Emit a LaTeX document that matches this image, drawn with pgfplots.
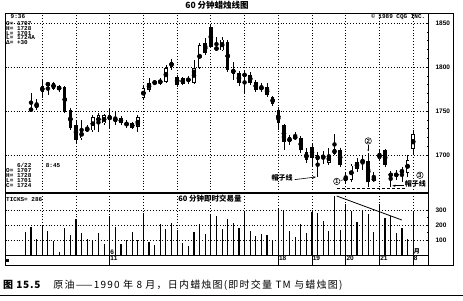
\documentclass[border=0pt]{standalone}
\usepackage{pgfplots}
\pgfplotsset{compat=1.18}
\usepackage{pgfplotstable}
\usetikzlibrary{arrows.meta}
\usepackage{fontspec}
\setmainfont{Liberation Sans}
\setmonofont{Liberation Mono}
\newfontfamily\cjk{Noto Sans CJK SC}

\pgfplotstableread{
i O H L C
0 1750 1770 1749 1753
1 1753 1764 1751 1759
2 1772 1785 1765 1778
3 1779 1783 1768 1782
4 1782 1783 1774 1775
5 1774 1780 1772 1778
6 1777 1778 1748 1749
7 1751 1753 1728 1731
8 1734 1740 1714 1717
9 1719 1740 1717 1728
10 1727 1734 1726 1731
11 1728 1745 1726 1743
12 1736 1748 1726 1745
13 1736 1747 1734 1745
14 1745 1753 1731 1740
15 1737 1749 1734 1743
16 1742 1744 1734 1736
17 1733 1740 1731 1737
18 1736 1738 1729 1731
19 1732 1745 1726 1743
20 1765 1778 1762 1776
21 1774 1787 1772 1782
22 1784 1785 1779 1781
23 1784 1787 1780 1782
24 1783 1802 1782 1799
25 1800 1809 1797 1806
26 1789 1791 1777 1780
27 1781 1789 1779 1787
28 1788 1790 1781 1783
29 1782 1808 1781 1799
30 1799 1827 1798 1825
31 1827 1833 1814 1816
32 1845 1848 1822 1823
33 1823 1834 1818 1819
34 1819 1834 1818 1831
35 1828 1831 1794 1797
36 1798 1806 1785 1792
37 1793 1795 1779 1782
38 1789 1795 1770 1793
39 1791 1794 1780 1782
40 1783 1785 1772 1774
41 1774 1782 1772 1778
42 1777 1782 1766 1768
43 1766 1767 1756 1758
44 1751 1755 1728 1736
45 1734 1735 1706 1715
46 1715 1723 1711 1720
47 1721 1726 1717 1719
48 1719 1722 1702 1706
49 1703 1708 1691 1694
50 1709 1714 1686 1697
51 1700 1703 1675 1694
52 1696 1704 1690 1700
53 1691 1708 1689 1700
54 1701 1724 1700 1707
55 1706 1708 1686 1689
56 1671 1681 1668 1675
57 1672 1690 1669 1688
58 1684 1697 1681 1692
59 1691 1700 1683 1695
60 1693 1702 1664 1669
61 1670 1681 1669 1675
62 1695 1706 1694 1702
63 1706 1707 1686 1689
64 1680 1682 1664 1675
65 1675 1683 1672 1680
66 1680 1686 1669 1683
67 1680 1700 1675 1694
68 1707 1728 1701 1724
}\candles
\pgfplotstablecreatecol[create col/expr={(\thisrow{H}+\thisrow{L})/2}]{wm}\candles
\pgfplotstablecreatecol[create col/expr={(\thisrow{H}-\thisrow{L})/2}]{we}\candles
\pgfplotstablecreatecol[create col/expr={(\thisrow{O}+\thisrow{C})/2}]{bm}\candles
\pgfplotstablecreatecol[create col/expr={max(abs(\thisrow{C}-\thisrow{O})/2,0.6)}]{be}\candles
\pgfplotstablecreatecol[create col/expr={max((\thisrow{C}-\thisrow{O})/2-0.8,0)}]{ie}\candles

\pgfplotstableread{
j v
-1 156
0 187
1 104
2 193
3 160
4 93
5 22
6 178
7 133
8 242
9 149
10 104
11 98
12 149
13 76
14 250
15 187
16 71
17 98
18 156
19 98
20 282
21 89
22 67
23 204
24 171
25 216
26 164
27 82
28 60
29 156
30 204
31 142
32 276
33 260
34 171
35 238
36 216
37 182
38 289
39 160
40 127
41 138
42 133
43 98
44 304
45 298
46 160
47 120
48 204
49 149
50 289
51 282
52 227
53 160
54 393
55 164
56 342
57 293
58 222
59 298
60 271
61 156
62 342
63 249
64 260
65 149
66 178
67 104
68 286
}\volumes

\tikzset{datelab/.style={anchor=north west, inner sep=0.6pt, font=\fontsize{6.5}{7}\selectfont\bfseries}}

\begin{document}
\begin{tikzpicture}
\useasboundingbox (0pt,0pt) rectangle (463pt,300pt);
\pgfplotsset{
  panel/.style={
    scale only axis, anchor=south west,
    width=423pt,
    xmin=-4.63, xmax=70.64,
    xtick={2,8,...,68}, xticklabels={},
    x tick style={draw=none},
    ytick pos=both, yticklabel pos=right,
    tick align=inside,
    major tick length=2.5pt, minor tick length=1.5pt,
    grid=major,
    major grid style={black, line width=0.9pt, dash pattern=on 0.9pt off 2pt},
    axis line style={line width=0.9pt},
    y tick style={black, line width=0.5pt},
    yticklabel style={font=\fontsize{6.5}{7}\selectfont\bfseries, xshift=4pt},
    /pgf/number format/assume math mode=true,
    /pgf/number format/1000 sep={},
    clip=false,
  }
}
% ---------------- price panel ----------------
\begin{axis}[panel, at={(5pt,107pt)}, height=180pt,
  ymin=1656.8, ymax=1861.4, ytick={1700,1750,1800,1850}, minor y tick num=4]
% wicks
\addplot[only marks, mark=none, forget plot,
  error bars/.cd, y dir=both, y explicit, error mark=none,
  error bar style={black, line width=0.75pt}]
  table[x=i, y=wm, y error=we] {\candles};
% bodies (outline / black)
\addplot[only marks, mark=none, forget plot,
  error bars/.cd, y dir=both, y explicit, error mark=none,
  error bar style={black, line width=3.5pt, line cap=butt}]
  table[x=i, y=bm, y error=be] {\candles};
% white interior of rising candles
\addplot[only marks, mark=none, forget plot,
  error bars/.cd, y dir=both, y explicit, error mark=none,
  error bar style={white, line width=1.9pt, line cap=butt}]
  table[x=i, y=bm, y error=ie] {\candles};
% support line
\addplot[black, densely dashed, line width=0.6pt] coordinates {(54.5,1662) (66.5,1662)};
% annotations
\node[font={\cjk\bfseries\fontsize{7}{8}\selectfont}, inner sep=0.5pt] at (axis cs:44.7,1674) {帽子线};
\draw[-{Stealth[length=3pt]}, line width=0.6pt] (axis cs:46.9,1672) -- (axis cs:50.7,1675);
\node[font={\cjk\bfseries\fontsize{7}{8}\selectfont}, inner sep=0.5pt] at (axis cs:68.4,1667) {帽子线};
\draw[-{Stealth[length=3pt]}, line width=0.6pt] (axis cs:66.3,1665) -- (axis cs:64.3,1665);
\node[draw, circle, line width=0.5pt, inner sep=0.4pt, font=\fontsize{6}{6}\selectfont\bfseries] at (axis cs:54.4,1670) {1};
\draw[line width=0.5pt] (axis cs:55.1,1671) -- (axis cs:55.7,1672);
\node[draw, circle, line width=0.5pt, inner sep=0.4pt, font=\fontsize{6}{6}\selectfont\bfseries] at (axis cs:60,1716) {2};
\draw[-{Stealth[length=2pt]}, line width=0.5pt] (axis cs:60,1711) -- (axis cs:60,1704);
\node[draw, circle, line width=0.5pt, inner sep=0.4pt, font=\fontsize{6}{6}\selectfont\bfseries] at (axis cs:69.2,1677) {3};
\end{axis}
% ---------------- volume panel ----------------
\begin{axis}[panel, at={(5pt,45pt)}, height=62pt,
  ymin=0, ymax=413, ytick={100,200,300}, minor y tick num=1]
\addplot[ycomb, black, line width=1.15pt] table[x=j, y=v] {\volumes};
\addplot[black, line width=0.8pt] coordinates {(54.4,393) (66,233)};
% date row
\draw[line width=0.7pt] (axis cs:14,0) -- ++(0pt,-10pt);
\draw[line width=0.7pt] (axis cs:44,0) -- ++(0pt,-10pt);
\draw[line width=0.7pt] (axis cs:50,0) -- ++(0pt,-10pt);
\draw[line width=0.7pt] (axis cs:56,0) -- ++(0pt,-10pt);
\draw[line width=0.7pt] (axis cs:62,0) -- ++(0pt,-10pt);
\draw[line width=0.7pt] (axis cs:68,0) -- ++(0pt,-10pt);
\node[datelab] at (axis cs:14,0) {11};
\node[datelab] at (axis cs:44,0) {18};
\node[datelab] at (axis cs:50,0) {19};
\node[datelab] at (axis cs:56,0) {20};
\node[datelab] at (axis cs:62,0) {21};
\node[datelab] at (axis cs:68,0) {8};
\node[anchor=south west, inner sep=0.6pt, font=\fontsize{6.5}{7}\selectfont\bfseries] at (axis cs:14,0) {6};
\node[anchor=south west, inner sep=0.6pt, font={\cjk\bfseries\fontsize{6}{6}\selectfont}] at (axis cs:68,0) {月};
\end{axis}
% ---------------- frame & texts ----------------
\draw[line width=0.9pt] (5pt,35pt) rectangle (453pt,287pt);
\draw[line width=1.2pt] (5pt,107pt) -- (428pt,107pt);
\draw[line width=0.9pt] (428pt,35pt) -- (428pt,287pt);
\fill (6pt,38pt) rectangle (9pt,41pt);
\node[font={\cjk\bfseries\fontsize{8.5}{9}\selectfont}] at (217pt,295pt) {60 分钟蜡烛线图};
\node[anchor=north east, inner sep=0.5pt, font=\ttfamily\fontsize{6}{6}\selectfont\bfseries] at (426pt,286.5pt) {© 1989 CQG INC.};
\node[anchor=north west, inner sep=0.5pt, font=\ttfamily\fontsize{6}{6}\selectfont\bfseries] at (10pt,286.5pt) {9:36};
\node[anchor=north west, inner sep=0pt, align=left, font=\ttfamily\fontsize{6}{4.9}\selectfont\bfseries] at (6pt,279pt) {O= 1707\\H= 1728\\L= 1701\\L= 1724A\\Δ=  +30};
\node[anchor=north west, inner sep=0pt, align=left, font=\ttfamily\fontsize{6}{4.9}\selectfont\bfseries] at (6pt,137pt) {\ \ \ 6/22\ \ \ \ 8:45\\O= 1707\\H= 1728\\L= 1701\\C= 1724};
\node[anchor=north west, inner sep=0pt, font=\ttfamily\fontsize{6}{6}\selectfont\bfseries] at (6pt,103pt) {TICKS= 286};
\node[font={\cjk\bfseries\fontsize{7.5}{8}\selectfont}] at (210pt,101pt) {60 分钟即时交易量};
\node[anchor=west, inner sep=0pt, font={\cjk\fontsize{10}{11}\selectfont}] at (3pt,15pt) {{\bfseries\addfontfeature{LetterSpace=8}图 15.5}\hspace{13pt}{\addfontfeature{LetterSpace=12}原油——1990 年 8 月，日内蜡烛图(即时交量 TM 与蜡烛图)}};
\draw[line width=0.7pt] (0pt,4.5pt) -- (463pt,4.5pt);
\end{tikzpicture}
\end{document}
